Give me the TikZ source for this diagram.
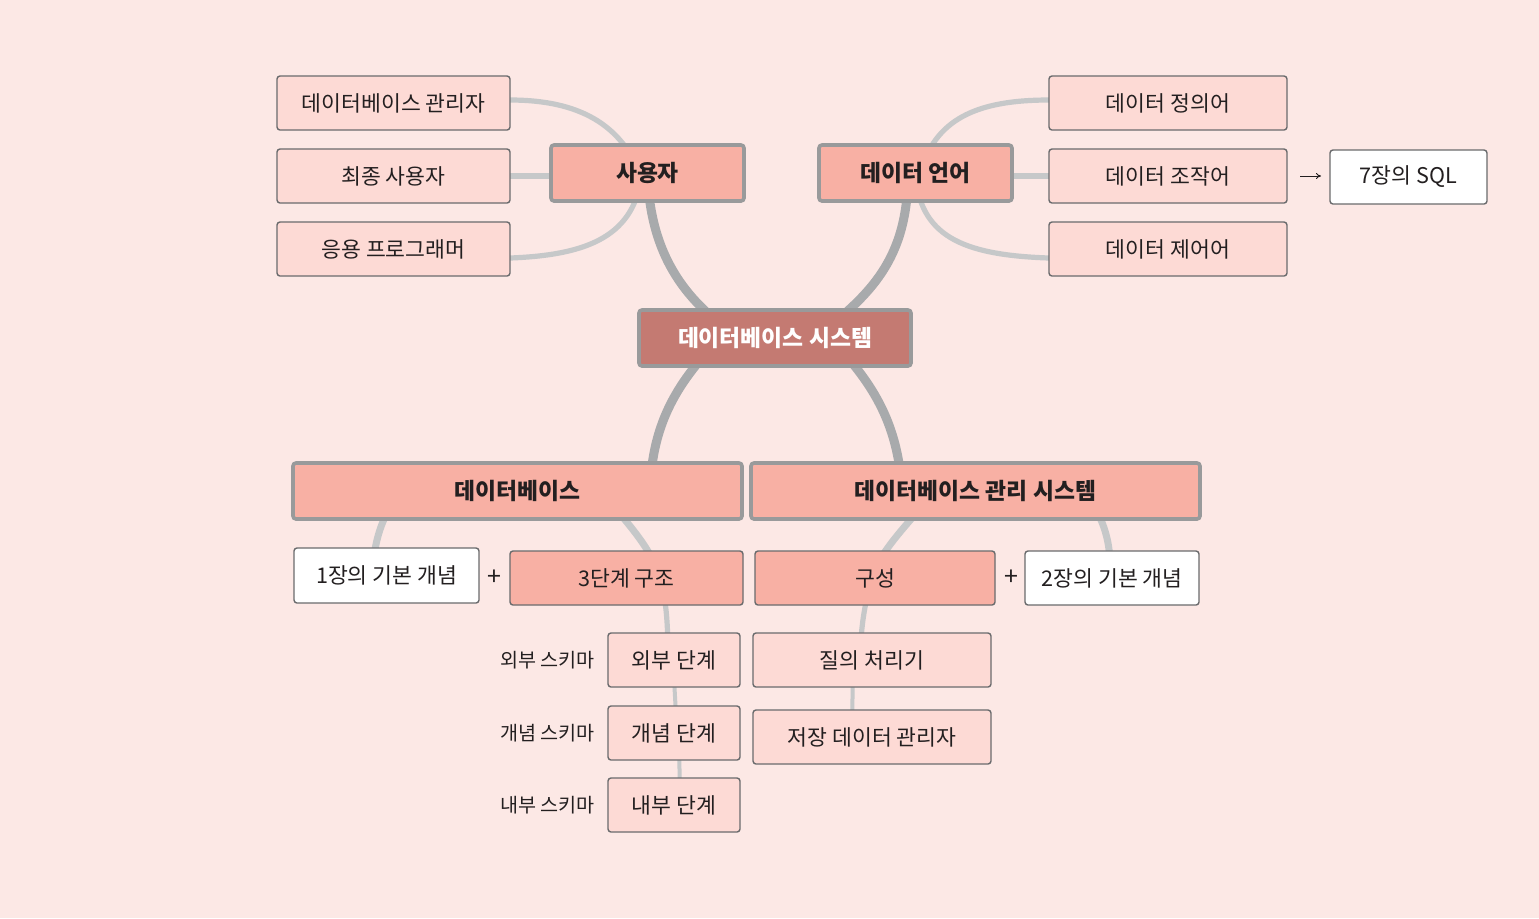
\documentclass[tikz,border=0pt]{standalone}
\usepackage{fontspec}
\setmainfont{Noto Sans CJK KR}
\usetikzlibrary{backgrounds,calc,arrows.meta}
\definecolor{bgc}{HTML}{FCE8E5}
\definecolor{lightfill}{HTML}{FDDAD5}
\definecolor{midfill}{HTML}{F8B0A4}
\definecolor{centerfill}{HTML}{C47A72}
\definecolor{thinborder}{HTML}{6A6B6D}
\definecolor{thickborder}{HTML}{999A9B}
\definecolor{txt}{HTML}{231F20}
\definecolor{mainline}{HTML}{A8AAAC}
\definecolor{subline}{HTML}{C6C8C9}
\tikzset{
  box/.style={rectangle, rounded corners=1.5pt, inner sep=0pt, outer sep=0pt,
    text=txt, font=\fontsize{10.8}{12}\selectfont},
  lightbox/.style={box, fill=lightfill, draw=thinborder, line width=0.7pt},
  whitebox/.style={box, fill=white, draw=thinborder, line width=0.7pt},
  midbox/.style={box, fill=midfill, draw=thinborder, line width=0.7pt},
  headbox/.style={box, fill=midfill, draw=thickborder, line width=1.8pt,
    font=\fontsize{11.4}{13}\bfseries\selectfont},
  centerbox/.style={box, fill=centerfill, draw=thickborder, line width=1.8pt,
    text=white, font=\fontsize{11.4}{13}\bfseries\selectfont},
  plain/.style={text=txt, inner sep=0pt, font=\fontsize{12.5}{14}\selectfont},
  schemalabel/.style={text=txt, inner sep=0pt, anchor=east, font=\fontsize{9.8}{12}\selectfont},
  bigcon/.style={draw=mainline, line width=4.5pt, line cap=round},
  midcon/.style={draw=subline, line width=3.5pt, line cap=round},
  smallcon/.style={draw=subline, line width=2.6pt, line cap=round},
  tinycon/.style={draw=subline, line width=2pt},
}
\begin{document}
\begin{tikzpicture}[x=0.5pt,y=-0.5pt]
\useasboundingbox (0,0) rectangle (1539,918);

% nodes
\node[lightbox, minimum width=116.5pt, minimum height=27pt] (dba) at (393.5,103) {데이터베이스 관리자};
\node[lightbox, minimum width=116.5pt, minimum height=27pt] (enduser) at (393.5,176) {최종 사용자};
\node[lightbox, minimum width=116.5pt, minimum height=27pt] (apppro) at (393.5,249) {응용 프로그래머};
\node[headbox, minimum width=96.5pt, minimum height=28pt] (user) at (647.5,173) {사용자};
\node[headbox, minimum width=96.5pt, minimum height=28pt] (dlang) at (915.5,173) {데이터 언어};
\node[lightbox, minimum width=119pt, minimum height=27pt] (ddl) at (1168,103) {데이터 정의어};
\node[lightbox, minimum width=119pt, minimum height=27pt] (dml) at (1168,176) {데이터 조작어};
\node[lightbox, minimum width=119pt, minimum height=27pt] (dcl) at (1168,249) {데이터 제어어};
\node[whitebox, minimum width=78.5pt, minimum height=27pt] (sql) at (1408.5,177) {7장의 SQL};
\node[centerbox, minimum width=136pt, minimum height=28pt] (dbs) at (775,338) {데이터베이스 시스템};
\node[headbox, minimum width=224.5pt, minimum height=28pt] (db) at (517.5,491) {데이터베이스};
\node[headbox, minimum width=224.5pt, minimum height=28pt] (dbms) at (975.5,491) {데이터베이스 관리 시스템};
\node[whitebox, minimum width=92.5pt, minimum height=27.5pt] (c1) at (386.5,575.5) {1장의 기본 개념};
\node[plain] (plus1) at (494,578) {+};
\node[midbox, minimum width=116.5pt, minimum height=27pt] (three) at (626.5,578) {3단계 구조};
\node[midbox, minimum width=120pt, minimum height=27pt] (comp) at (875,578) {구성};
\node[plain] (plus2) at (1011,578) {+};
\node[whitebox, minimum width=87pt, minimum height=27pt] (c2) at (1112,578) {2장의 기본 개념};
\node[lightbox, minimum width=66pt, minimum height=27pt] (ext) at (674,660) {외부 단계};
\node[lightbox, minimum width=66pt, minimum height=27pt] (con) at (674,733) {개념 단계};
\node[lightbox, minimum width=66pt, minimum height=27pt] (int) at (674,805) {내부 단계};
\node[schemalabel] (lext) at (595,660) {외부 스키마};
\node[schemalabel] (lcon) at (595,733) {개념 스키마};
\node[schemalabel] (lint) at (595,805) {내부 스키마};
\node[lightbox, minimum width=119pt, minimum height=27pt] (qp) at (872,660) {질의 처리기};
\node[lightbox, minimum width=119pt, minimum height=27pt] (sdm) at (872,737) {저장 데이터 관리자};

\begin{pgfonlayer}{background}
\fill[bgc] (0,0) rectangle (1539,918);
% main branches
\draw[bigcon] (user.center) .. controls +(2.5,87) and +(-50,-33) .. ($(dbs.center)+(-35,0)$);
\draw[bigcon] ($(dlang.center)+(-7.5,0)$) .. controls +(0,87) and +(55,-43) .. ($(dbs.center)+(40,0)$);
\draw[bigcon] ($(dbs.center)+(-55,0)$) .. controls +(-40,42) and +(2,-71) .. ($(db.center)+(132.5,0)$);
\draw[bigcon] ($(dbs.center)+(55,0)$) .. controls +(40,42) and +(-4,-71) .. ($(dbms.center)+(-73.5,0)$);
% user branches
\draw[smallcon] ($(dba.east)+(0,-3)$) .. controls +(70,0) and +(-20,-48) .. ($(user.center)+(-7.5,0)$);
\draw[smallcon] (enduser.east) -- (enduser.east -| user.west);
\draw[smallcon] ($(apppro.east)+(0,9)$) .. controls +(80,-3) and +(-7,62) .. ($(user.center)+(-5.5,0)$);
% data language branches
\draw[smallcon] ($(ddl.west)+(0,-3)$) .. controls +(-74,0) and +(15,-53) .. ($(dlang.center)+(4.5,0)$);
\draw[smallcon] (dml.west) -- (dml.west -| dlang.east);
\draw[smallcon] ($(dcl.west)+(0,9)$) .. controls +(-89,-3) and +(5,62) .. ($(dlang.center)+(-0.5,0)$);
% database branches
\draw[midcon] ($(db.center)+(-117.5,0)$) .. controls +(-15,24) and +(3,-45) .. ($(c1.center)+(-14.5,0)$);
\draw[midcon] ($(db.center)+(82.5,0)$) .. controls +(30,34) and +(-8,-28) .. ($(three.center)+(33.5,0)$);
\draw[smallcon] ($(three.center)+(33.5,0)$) .. controls +(6,22) and +(0,-40) .. ($(ext.center)+(-6,0)$);
\draw[tinycon] ($(ext.center)+(-1,0)$) -- ($(con.center)+(3,0)$);
\draw[tinycon] ($(con.center)+(5,0)$) -- ($(int.center)+(6,0)$);
% dbms branches
\draw[midcon] ($(dbms.center)+(-40.5,0)$) .. controls +(-25,31) and +(8,-28) .. ($(comp.center)+(-3,0)$);
\draw[smallcon] ($(comp.center)+(-3,0)$) .. controls +(-6,22) and +(1,-40) .. ($(qp.center)+(-12,0)$);
\draw[midcon] ($(dbms.center)+(109.5,0)$) .. controls +(15,24) and +(2,-43) .. ($(c2.center)+(-2,0)$);
\draw[tinycon] ($(qp.center)+(-19,0)$) -- ($(sdm.center)+(-20,0)$);
\end{pgfonlayer}
% arrow to SQL
\draw[-{To[length=2.5pt,width=3pt]}, line width=0.5pt, draw=txt, shorten <=6.5pt, shorten >=4.5pt] (dml.east) -- (dml.east -| sql.west);
\end{tikzpicture}
\end{document}
